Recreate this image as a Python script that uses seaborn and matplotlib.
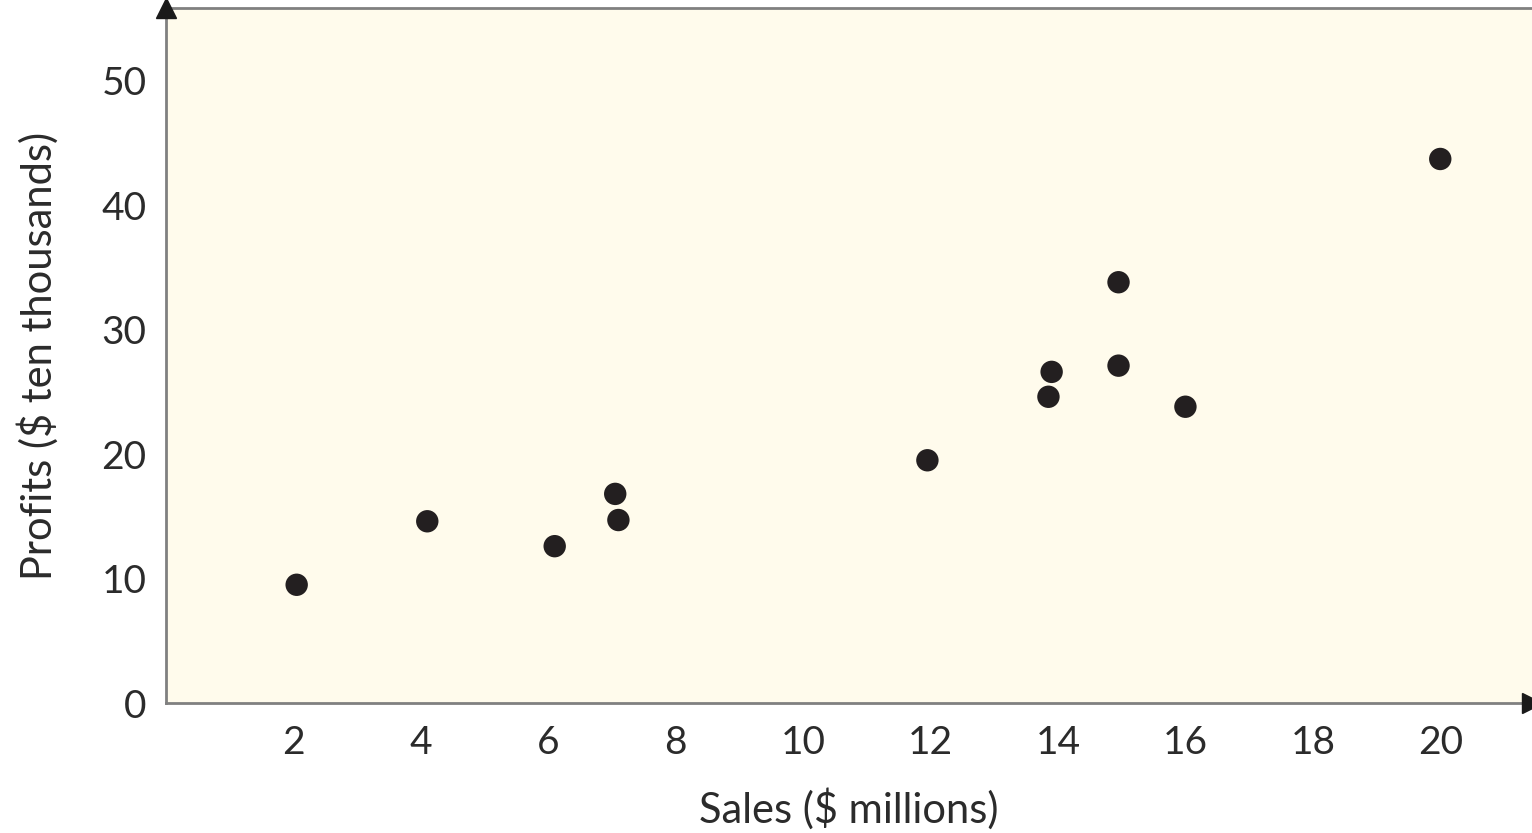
import seaborn as sns
import pandas as pd
import matplotlib.pyplot as plt

sales = [2.05, 4.1, 6.1, 7.05, 7.1, 11.95, 13.85, 13.9, 14.95, 14.95, 16.0, 20.0]
profits = [9.5, 14.6, 12.6, 16.8, 14.7, 19.5, 24.6, 26.6, 33.8, 27.1, 23.8, 43.7]
x_ticks = [2, 4, 6, 8, 10, 12, 14, 16, 18, 20]
y_ticks = [0, 10, 20, 30, 40, 50]

df = pd.DataFrame({'Sales': sales, 'Profits': profits})

sns.set_style('white')
plt.rcParams['font.family'] = ['Lato', 'DejaVu Sans']

fig = plt.figure(figsize=(15.32, 8.33), dpi=100)
ax = fig.add_axes([0.1084, 0.156, 0.8916, 0.834])
ax.set_facecolor('#fffbec')

sns.scatterplot(data=df, x='Sales', y='Profits', ax=ax, color='#231f20',
                s=260, edgecolor='none', zorder=3)

ax.set_xlim(0, 21.44)
ax.set_ylim(0, 55.8)
ax.set_xticks(x_ticks)
ax.set_yticks(y_ticks)
ax.tick_params(axis='both', direction='in', length=15, width=2, color='#777777',
               labelsize=28, labelcolor='#2b2b2b')
ax.tick_params(axis='x', pad=16)
ax.tick_params(axis='y', pad=14)

for side in ['left', 'bottom', 'top']:
    ax.spines[side].set_color('#808080')
    ax.spines[side].set_linewidth(2)
ax.spines['right'].set_visible(False)

# arrow heads on the axes
ax.plot(0, 1, '^', color='#1a1a1a', markersize=14, transform=ax.transAxes, clip_on=False, zorder=5)
ax.plot(1, 0, '>', color='#1a1a1a', markersize=14, transform=ax.transAxes, clip_on=False, zorder=5)

ax.set_xlabel('Sales ($ millions)', fontsize=30, color='#2b2b2b', labelpad=19)
ax.set_ylabel('Profits ($ ten thousands)', fontsize=30, color='#2b2b2b', labelpad=31)

fig.savefig('out.png', dpi=100)
